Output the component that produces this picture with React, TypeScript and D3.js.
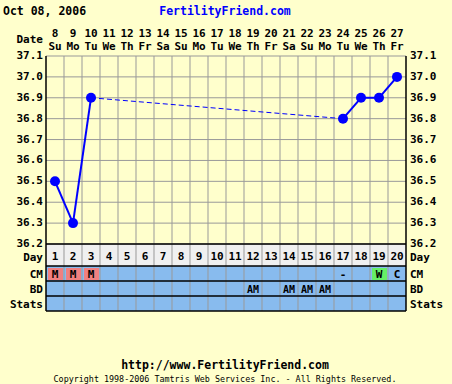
import React from "react";
import * as d3 from "d3";

const headerDate = "Oct 08, 2006";
const siteTitle = "FertilityFriend.com";
const dayNums = ["8","9","10","11","12","13","14","15","16","17","18","19","20","21","22","23","24","25","26","27"];
const weekdays = ["Su","Mo","Tu","We","Th","Fr","Sa","Su","Mo","Tu","We","Th","Fr","Sa","Su","Mo","Tu","We","Th","Fr"];
const cycleDays = d3.range(1, 21);
const tempTicks = [36.2, 36.3, 36.4, 36.5, 36.6, 36.7, 36.8, 36.9, 37.0, 37.1];
const tempDays = [1, 2, 3, 17, 18, 19, 20];
const tempValues = [36.5, 36.3, 36.9, 36.8, 36.9, 36.9, 37.0];
const cmValues = ["M","M","M","","","","","","","","","","","","","","-","","W","C"];
const bdValues = ["","","","","","","","","","","","AM","","AM","AM","AM","","","",""];
const rowLabels = ["Day", "CM", "BD", "Stats"];

const FONT = "'DejaVu Sans Mono', monospace";

export default function App() {
  const W = 452, H = 384;
  const left = 46, right = 406;
  const top = 56, bottom = 244;
  const x = d3.scaleBand<number>().domain(cycleDays).range([left, right]);
  const y = d3.scaleLinear().domain([36.2, 37.1]).range([bottom, top]);
  const cx = (d: number) => (x(d) as number) + x.bandwidth() / 2;
  const rows = [
    { y0: 244, y1: 266 },
    { y0: 266, y1: 281 },
    { y0: 281, y1: 296 },
    { y0: 296, y1: 311 },
  ];

  const pts = tempDays.map((d, i) => ({ d, v: tempValues[i] }));
  const segs: { a: any; b: any; dashed: boolean }[] = [];
  for (let i = 1; i < pts.length; i++) {
    segs.push({ a: pts[i - 1], b: pts[i], dashed: pts[i].d - pts[i - 1].d > 1 });
  }

  return (
    <svg width={W} height={H} style={{ position: "absolute", left: 0, top: 0, background: "#ffffcc" }}>
      <rect x={0} y={0} width={W} height={H} fill="#ffffcc" />
      <text x={3} y={15} fontFamily={FONT} fontWeight="bold" fontSize={11.5} fill="#000">{headerDate}</text>
      <text x={225} y={15} textAnchor="middle" fontFamily={FONT} fontWeight="bold" fontSize={11.5} fill="#0000ff">{siteTitle}</text>

      <text x={43} y={43} textAnchor="end" fontFamily={FONT} fontWeight="bold" fontSize={11} fill="#000">Date</text>
      {cycleDays.map((d, i) => (
        <g key={d}>
          <text x={cx(d)} y={37} textAnchor="middle" fontFamily={FONT} fontWeight="bold" fontSize={11} fill="#000">{dayNums[i]}</text>
          <text x={cx(d)} y={50} textAnchor="middle" fontFamily={FONT} fontWeight="bold" fontSize={11} fill="#000">{weekdays[i]}</text>
        </g>
      ))}

      <rect x={left} y={rows[0].y0} width={right - left} height={rows[0].y1 - rows[0].y0} fill="#f0f0f0" />
      <rect x={left} y={rows[1].y0} width={right - left} height={rows[3].y1 - rows[1].y0} fill="#88bbee" />

      {cycleDays.map((d, i) => {
        const v = cmValues[i];
        if (v !== "M" && v !== "W") return null;
        return <rect key={"cmb" + d} x={(x(d) as number) + 2} y={rows[1].y0 + 2} width={x.bandwidth() - 3} height={rows[1].y1 - rows[1].y0 - 3} fill={v === "M" ? "#f08080" : "#66ee66"} />;
      })}

      {tempTicks.map((t) => (
        <line key={"h" + t} x1={left} x2={right} y1={y(t)} y2={y(t)} stroke="#999" strokeWidth={1} />
      ))}
      {cycleDays.slice(1).map((d) => (
        <line key={"v" + d} x1={x(d) as number} x2={x(d) as number} y1={top} y2={rows[3].y1} stroke="#999" strokeWidth={1} />
      ))}
      {rows.map((r, i) => (
        <line key={"rl" + i} x1={left} x2={right} y1={r.y0} y2={r.y0} stroke="#000" strokeWidth={1.5} />
      ))}
      <line x1={left} x2={right} y1={rows[3].y1} y2={rows[3].y1} stroke="#000" strokeWidth={1.5} />
      <line x1={left} x2={left} y1={top} y2={rows[3].y1} stroke="#000" strokeWidth={1.5} />
      <line x1={right} x2={right} y1={top} y2={rows[3].y1} stroke="#000" strokeWidth={1.5} />

      {tempTicks.map((t) => (
        <g key={"l" + t}>
          <text x={43} y={y(t) + 3} textAnchor="end" fontFamily={FONT} fontWeight="bold" fontSize={11} fill="#000">{t.toFixed(1)}</text>
          <text x={410} y={y(t) + 3} textAnchor="start" fontFamily={FONT} fontWeight="bold" fontSize={11} fill="#000">{t.toFixed(1)}</text>
        </g>
      ))}
      {rowLabels.map((lab, i) => {
        const ym = (rows[i].y0 + rows[i].y1) / 2 + (i === 0 ? 6 : 4);
        return (
          <g key={lab}>
            <text x={43} y={ym} textAnchor="end" fontFamily={FONT} fontWeight="bold" fontSize={11} fill="#000">{lab}</text>
            <text x={410} y={ym} textAnchor="start" fontFamily={FONT} fontWeight="bold" fontSize={11} fill="#000">{lab}</text>
          </g>
        );
      })}

      {cycleDays.map((d, i) => (
        <g key={"c" + d}>
          <text x={cx(d)} y={(rows[0].y0 + rows[0].y1) / 2 + 5} textAnchor="middle" fontFamily={FONT} fontWeight="bold" fontSize={11} fill="#000">{d}</text>
          {cmValues[i] && <text x={cx(d)} y={(rows[1].y0 + rows[1].y1) / 2 + 4} textAnchor="middle" fontFamily={FONT} fontWeight="bold" fontSize={11} fill="#000">{cmValues[i]}</text>}
          {bdValues[i] && <text x={cx(d)} y={(rows[2].y0 + rows[2].y1) / 2 + 4} textAnchor="middle" fontFamily={FONT} fontWeight="bold" fontSize={10} fill="#000">{bdValues[i]}</text>}
        </g>
      ))}

      {segs.map((s, i) => (
        <line key={"s" + i} x1={cx(s.a.d)} y1={y(s.a.v)} x2={cx(s.b.d)} y2={y(s.b.v)} stroke="#0000ff" strokeWidth={s.dashed ? 1 : 2} strokeDasharray={s.dashed ? "5,3" : undefined} />
      ))}
      {pts.map((p) => (
        <circle key={"p" + p.d} cx={cx(p.d)} cy={y(p.v)} r={5} fill="#0000ff" />
      ))}

      <text x={225} y={369} textAnchor="middle" fontFamily={FONT} fontWeight="bold" fontSize={11.5} fill="#000">http://www.FertilityFriend.com</text>
      <text x={225} y={382} textAnchor="middle" fontFamily={FONT} fontSize={8.4} fill="#000">Copyright 1998-2006 Tamtris Web Services Inc. - All Rights Reserved.</text>
    </svg>
  );
}
